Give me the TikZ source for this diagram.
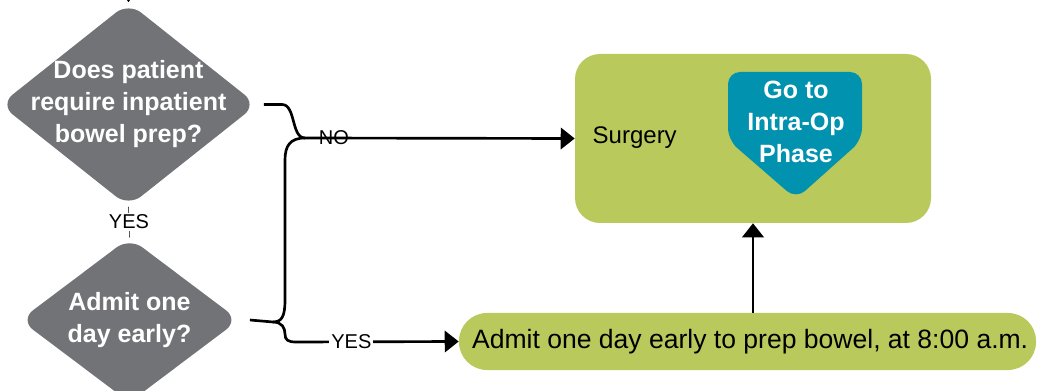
\documentclass[tikz,border=0pt]{standalone}
\usepackage{fontspec}
\setmainfont{Liberation Sans}
\usetikzlibrary{shapes.geometric}
\usetikzlibrary{arrows.meta}

\definecolor{deciGray}{RGB}{114,115,119}
\definecolor{stepGreen}{RGB}{185,201,91}
\definecolor{phaseTeal}{RGB}{0,146,174}

\tikzset{
	decision/.style={diamond, fill=deciGray, rounded corners=12pt, inner sep=0pt},
	decitext/.style={text=white, font=\fontsize{18.75}{24}\selectfont\bfseries, align=center},
	stepbox/.style={fill=stepGreen, rounded corners=18.75pt, inner sep=0pt},
	flow/.style={line width=2pt},
	flowarrow/.style={flow, -{Triangle[length=10.5pt, width=16pt]}},
	answer/.style={font=\fontsize{15}{18}\selectfont, inner sep=1.5pt}
}

\begin{document}
\begin{tikzpicture}[x=0.75pt, y=-0.75pt]
	\useasboundingbox (0,0) rectangle (1038,391);
	\node[decision, minimum width=192.75pt, minimum height=153pt] (inpt) at (128.5,104.5) {};
	\node[decitext] (inpttext) at (inpt.center) {Does patient\\require inpatient\\bowel prep?};
	\node[decision, minimum width=164.25pt, minimum height=123.6pt] (early) at (129.5,320) {};
	\node[decitext] (earlytext) at (early.center) {Admit one\\day early?};
	\node[stepbox, minimum width=267pt, minimum height=126.75pt] (surgery) at (753,138.5) {};
	\node[anchor=west, font=\fontsize{18}{22}\selectfont] (surgtext) at (588,138) {Surgery};
	\fill[phaseTeal, rounded corners=9pt] (728,72) -- (862,72) -- (862,140) -- (796,199) -- (728,140) -- cycle;
	\node[decitext] (gotext) at (796,122) {Go to\\Intra-Op\\Phase};
	\node[stepbox, rounded corners=21pt, minimum width=432.75pt, minimum height=42.75pt, font=\fontsize{19.9}{22}\selectfont] (admit) at (747.5,341.5) {\hspace*{4pt}Admit one day early to prep bowel, at 8:00 a.m.};
	\coordinate (entry) at (128.5,-20);
	\coordinate (nojoin) at (305,138);
	\coordinate (yesjoin) at (273,322);
	\coordinate (yesturn) at (296,342);
	\draw[-{Triangle[length=4pt, width=5pt]}] (entry) -- (inpt.north);
	\draw (inpt.south) -- node[answer, fill=white] {YES} (early.north);
	\draw[flow] ([xshift=5pt]inpt.east) -- ++(18,0) .. controls +(14,0) and +(-14,0) .. (nojoin);
	\draw[flowarrow] (nojoin) -- node[answer, pos=0.107] {NO} (surgery.west);
	\draw[flow] (nojoin) .. controls (290,138) and (285,146) .. (285,160) -- (285,300) .. controls (285,316) and (282,322) .. (yesjoin);
	\draw[flow] ([xshift=8pt]early.east) -- (yesjoin) .. controls (282,322) and (285,328) .. (285,334) .. controls (285,340) and (288,342) .. (yesturn);
	\draw[flowarrow] (yesturn) -- node[answer, fill=white, pos=0.34] {YES} (admit.west);
	\draw[flowarrow] (admit.north -| surgery.south) -- (surgery.south);
\end{tikzpicture}
\end{document}
